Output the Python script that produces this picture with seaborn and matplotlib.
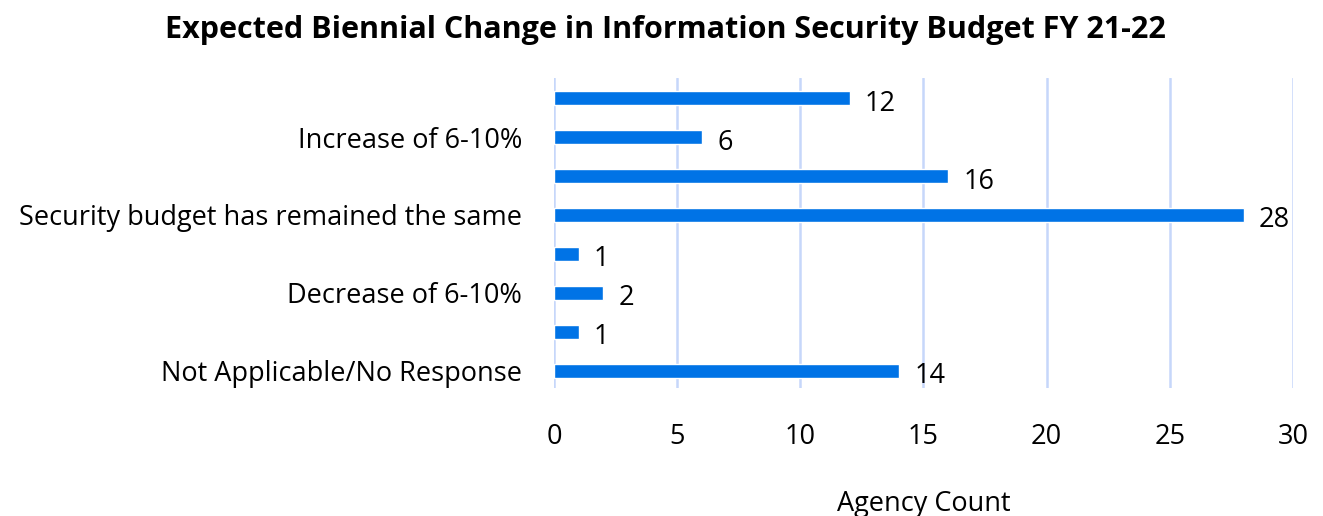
import matplotlib
matplotlib.use("Agg")
import matplotlib.pyplot as plt
import seaborn as sns
import pandas as pd

categories = [
    "Increase of more than 10%",
    "Increase of 6-10%",
    "Increase of 1-5%",
    "Security budget has remained the same",
    "Decrease of 1-5%",
    "Decrease of 6-10%",
    "Decrease of more than 10%",
    "Not Applicable/No Response",
]
counts = [12, 6, 16, 28, 1, 2, 1, 14]
# only every other category name is printed on the axis
shown_labels = ["", "Increase of 6-10%", "", "Security budget has remained the same",
                "", "Decrease of 6-10%", "", "Not Applicable/No Response"]
x_ticks = [0, 5, 10, 15, 20, 25, 30]

df = pd.DataFrame({"category": categories, "count": counts})

sns.set_theme(style="white")
plt.rcParams["font.family"] = ["Open Sans", "DejaVu Sans"]
plt.rcParams["text.color"] = "black"
plt.rcParams["xtick.color"] = "black"
plt.rcParams["ytick.color"] = "black"
plt.rcParams["axes.labelcolor"] = "black"

fig = plt.figure(figsize=(13.23, 5.16), dpi=100)
ax = fig.add_axes([0.4187, 0.248, 0.9773 - 0.4187, 0.849 - 0.248])

bar_color = "#0073E6"
sns.barplot(data=df, y="category", x="count", color=bar_color, orient="h",
            width=0.36, ax=ax, saturation=1, zorder=3)

fs = 19.5
ax.set_xlim(0, 30)
ax.set_ylim(7.45, -0.52)
ax.set_xticks(x_ticks)
ax.set_xticklabels([str(t) for t in x_ticks], fontsize=fs)
ax.set_yticks(range(len(categories)))
ax.set_yticklabels(shown_labels, fontsize=fs)
ax.tick_params(axis="y", length=0, pad=23)
ax.tick_params(axis="x", length=0, pad=25)
ax.grid(axis="x", color="#C6D7FA", linewidth=1.8, zorder=0)
ax.grid(axis="y", visible=False)
for s in ax.spines.values():
    s.set_visible(False)

for i, v in enumerate(counts):
    ax.annotate(str(v), xy=(v, i), xytext=(11, -4), textcoords="offset points",
                va="center", ha="left", fontsize=fs, color="black")

ax.set_ylabel("")
ax.set_xlabel("Agency Count", fontsize=fs, labelpad=28)

fig.suptitle("Expected Biennial Change in Information Security Budget FY 21-22",
             fontsize=22, fontweight="bold", x=0.503, y=0.97)

fig.savefig("out.png", dpi=100)
